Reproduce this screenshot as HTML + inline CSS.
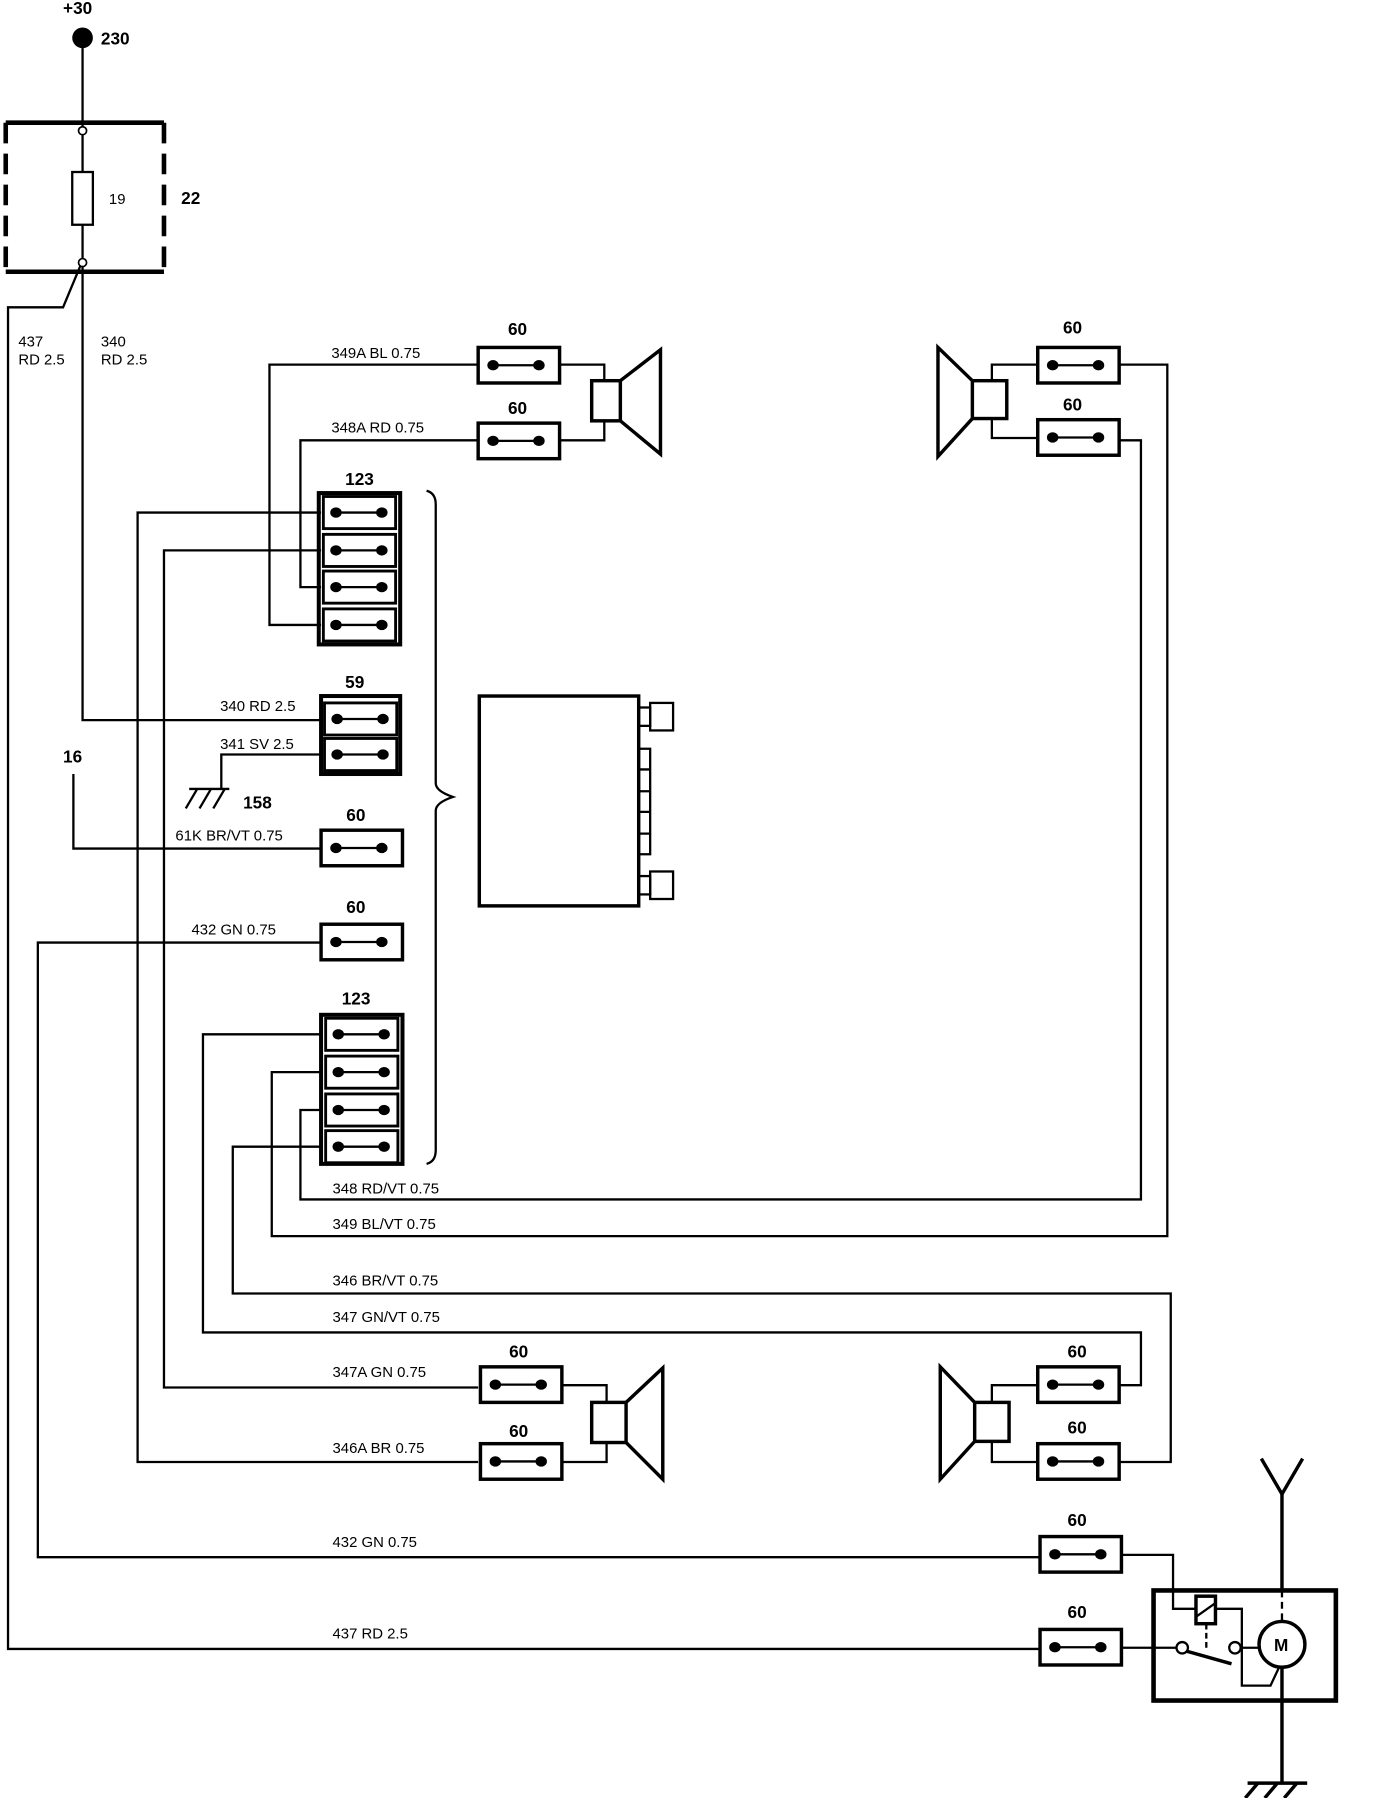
<!DOCTYPE html>
<html><head><meta charset="utf-8"><style>
html,body{margin:0;padding:0;background:#fff;}
svg{display:block;}
text{font-family:"Liberation Sans",sans-serif;font-size:13px;fill:#000;}
.b{font-weight:bold;font-size:15px;}
</style></head><body>
<svg width="1376" height="1798" viewBox="0 0 1200 1568" preserveAspectRatio="none" xmlns="http://www.w3.org/2000/svg">
<defs>
<g id="c60"><rect x="0" y="0" width="71" height="31" fill="#fff" stroke="#000" stroke-width="3"/><line x1="13" y1="15.5" x2="53" y2="15.5" stroke="#000" stroke-width="2"/><ellipse cx="13" cy="15.5" rx="5" ry="4.5"/><ellipse cx="53" cy="15.5" rx="5" ry="4.5"/></g>
<g id="row"><rect x="4" y="0" width="63" height="28" fill="#fff" stroke="#000" stroke-width="2.5"/><line x1="15" y1="14" x2="55" y2="14" stroke="#000" stroke-width="2"/><ellipse cx="15" cy="14" rx="5" ry="4.5"/><ellipse cx="55" cy="14" rx="5" ry="4.5"/></g>
</defs>
<g fill="none" stroke="#000" stroke-width="2">
<!-- top power -->
<line x1="72" y1="33" x2="72" y2="110"/>
<path d="M5 107 H143 M5 237 H143" stroke-width="4"/>
<path d="M5 107 V237 M143 107 V237" stroke-width="4" stroke-dasharray="18 9"/>
<line x1="72" y1="117" x2="72" y2="150"/>
<rect x="63" y="150" width="18" height="46"/>
<line x1="72" y1="196" x2="72" y2="226"/>
<path d="M72 232 V628 H280"/>
<path d="M70 232 L55 268 H7 V1438 H907"/>
<!-- top-left speaker wiring -->
<path d="M417 318 H235 V545 H280"/>
<path d="M417 384 H262 V512 H280"/>
<path d="M488 318 H527 V332 M488 384 H527 V367"/>
<rect x="516" y="332" width="25" height="35" stroke-width="3"/>
<path d="M541 332 L576 305 V396 L541 367" stroke-width="3"/>
<!-- top 123 wires -->
<path d="M280 447 H120 V1275 H417"/>
<path d="M280 480 H143 V1210 H417"/>
<!-- 59 -->
<path d="M280 658 H193 V688"/>
<path d="M165 688 H200 M172 688 L162 705 M184 688 L174 705 M196 688 L186 705"/>
<path d="M280 740 H64 V675"/>
<path d="M280 822 H33 V1358 H907"/>
<!-- brace -->
<path d="M372 428 Q380 430 380 440 V683 Q380 690 395 695 Q380 700 380 707 V1003 Q380 1013 372 1015" stroke-width="2"/>
<!-- radio -->
<rect x="418" y="607" width="139" height="183" stroke-width="3"/>
<rect x="557" y="617" width="10" height="16"/><rect x="567" y="613" width="20" height="24"/>
<rect x="557" y="764" width="10" height="16"/><rect x="567" y="760" width="20" height="24"/>
<path d="M557 653 H567 V745 H557 M557 671 H567 M557 690 H567 M557 708 H567 M557 727 H567"/>
<!-- bottom 123 wires -->
<path d="M280 902 H177 V1162 H995 V1208 H976"/>
<path d="M280 935 H237 V1078 H1018 V318 H976"/>
<path d="M280 968 H262 V1046 H995 V384 H976"/>
<path d="M280 1000 H203 V1128 H1021 V1275 H976"/>
<!-- top-right speaker -->
<path d="M905 318 H865 V332 M905 382 H865 V365"/>
<rect x="848" y="332" width="30" height="33" stroke-width="3"/>
<path d="M848 332 L818 303 V398 L848 365" stroke-width="3"/>
<!-- bottom-left speaker -->
<path d="M490 1208 H529 V1223 M490 1275 H529 V1258"/>
<rect x="516" y="1223" width="30" height="35" stroke-width="3"/>
<path d="M546 1223 L578 1193 V1290 L546 1258" stroke-width="3"/>
<!-- bottom-right speaker -->
<path d="M905 1208 H865 V1223 M905 1275 H865 V1257"/>
<rect x="850" y="1223" width="30" height="34" stroke-width="3"/>
<path d="M850 1223 L820 1192 V1290 L850 1257" stroke-width="3"/>
<!-- antenna -->
<rect x="1006" y="1387" width="159" height="96" stroke-width="4"/>
<path d="M978 1356 H1023 V1403 H1043 M1060 1403 H1083 V1470 H1108 L1115 1455"/>
<rect x="1043" y="1392" width="17" height="24" stroke-width="3"/>
<path d="M1043 1410 L1060 1398" stroke-width="2"/>
<line x1="1052" y1="1416" x2="1052" y2="1437" stroke-dasharray="5 3"/>
<path d="M978 1437 H1026"/>
<circle cx="1031" cy="1437" r="5"/>
<path d="M1035 1440 L1074 1451" stroke-width="3"/>
<circle cx="1077" cy="1437" r="5"/>
<path d="M1082 1437 H1098"/>
<circle cx="1118" cy="1434" r="20" stroke-width="3"/>
<line x1="1118" y1="1300" x2="1118" y2="1387" stroke-width="3"/>
<line x1="1118" y1="1387" x2="1118" y2="1414" stroke-width="2" stroke-dasharray="6 4"/>
<line x1="1118" y1="1454" x2="1118" y2="1555" stroke-width="3"/>
<path d="M1100 1272 L1118 1303 L1136 1272" stroke-width="3"/>
<path d="M1088 1555 H1140 M1097 1555 L1086 1568 M1114 1555 L1103 1568 M1131 1555 L1120 1568" stroke-width="3"/>
</g>
<circle cx="72" cy="33" r="9" fill="#000"/>
<circle cx="72" cy="114" r="3.5" fill="#fff" stroke="#000" stroke-width="1.5"/>
<circle cx="72" cy="229" r="3.5" fill="#fff" stroke="#000" stroke-width="1.5"/>
<!-- connectors -->
<use href="#c60" x="417" y="303"/><use href="#c60" x="417" y="369"/>
<use href="#c60" x="905" y="303"/><use href="#c60" x="905" y="366"/>
<use href="#c60" x="419" y="1192"/><use href="#c60" x="419" y="1259"/>
<use href="#c60" x="905" y="1192"/><use href="#c60" x="905" y="1259"/>
<use href="#c60" x="907" y="1340"/><use href="#c60" x="907" y="1421"/>
<use href="#c60" x="280" y="724"/><use href="#c60" x="280" y="806"/>
<rect x="278" y="430" width="71" height="132" fill="none" stroke="#000" stroke-width="3.5"/>
<use href="#row" x="278" y="433"/><use href="#row" x="278" y="466"/><use href="#row" x="278" y="498"/><use href="#row" x="278" y="531"/>
<rect x="280" y="607" width="69" height="68" fill="none" stroke="#000" stroke-width="3.5"/>
<use href="#row" x="279" y="613"/><use href="#row" x="279" y="644"/>
<rect x="280" y="885" width="71" height="130" fill="none" stroke="#000" stroke-width="3.5"/>
<use href="#row" x="280" y="888"/><use href="#row" x="280" y="921"/><use href="#row" x="280" y="954"/><use href="#row" x="280" y="986"/>
<!-- text -->
<text class="b" x="55" y="12">+30</text>
<text class="b" x="88" y="39">230</text>
<text x="95" y="178">19</text>
<text class="b" x="158" y="178">22</text>
<text x="16" y="302">437</text><text x="16" y="318">RD 2.5</text>
<text x="88" y="302">340</text><text x="88" y="318">RD 2.5</text>
<text class="b" x="443" y="292">60</text><text class="b" x="443" y="361">60</text>
<text class="b" x="927" y="291">60</text><text class="b" x="927" y="358">60</text>
<text class="b" x="444" y="1184">60</text><text class="b" x="444" y="1253">60</text>
<text class="b" x="931" y="1184">60</text><text class="b" x="931" y="1250">60</text>
<text class="b" x="931" y="1331">60</text><text class="b" x="931" y="1411">60</text>
<text class="b" x="301" y="423">123</text><text class="b" x="301" y="600">59</text>
<text class="b" x="302" y="716">60</text><text class="b" x="302" y="796">60</text>
<text class="b" x="298" y="876">123</text>
<text class="b" x="55" y="665">16</text><text class="b" x="212" y="705">158</text>
<text x="289" y="312">349A BL 0.75</text>
<text x="289" y="377">348A RD 0.75</text>
<text x="192" y="620">340 RD 2.5</text>
<text x="192" y="653">341 SV 2.5</text>
<text x="153" y="733">61K BR/VT 0.75</text>
<text x="167" y="815">432 GN 0.75</text>
<text x="290" y="1041">348 RD/VT 0.75</text>
<text x="290" y="1072">349 BL/VT 0.75</text>
<text x="290" y="1121">346 BR/VT 0.75</text>
<text x="290" y="1153">347 GN/VT 0.75</text>
<text x="290" y="1201">347A GN 0.75</text>
<text x="290" y="1267">346A BR 0.75</text>
<text x="290" y="1349">432 GN 0.75</text>
<text x="290" y="1429">437 RD 2.5</text>
<text class="b" x="1111" y="1440">M</text>
</svg>
</body></html>
